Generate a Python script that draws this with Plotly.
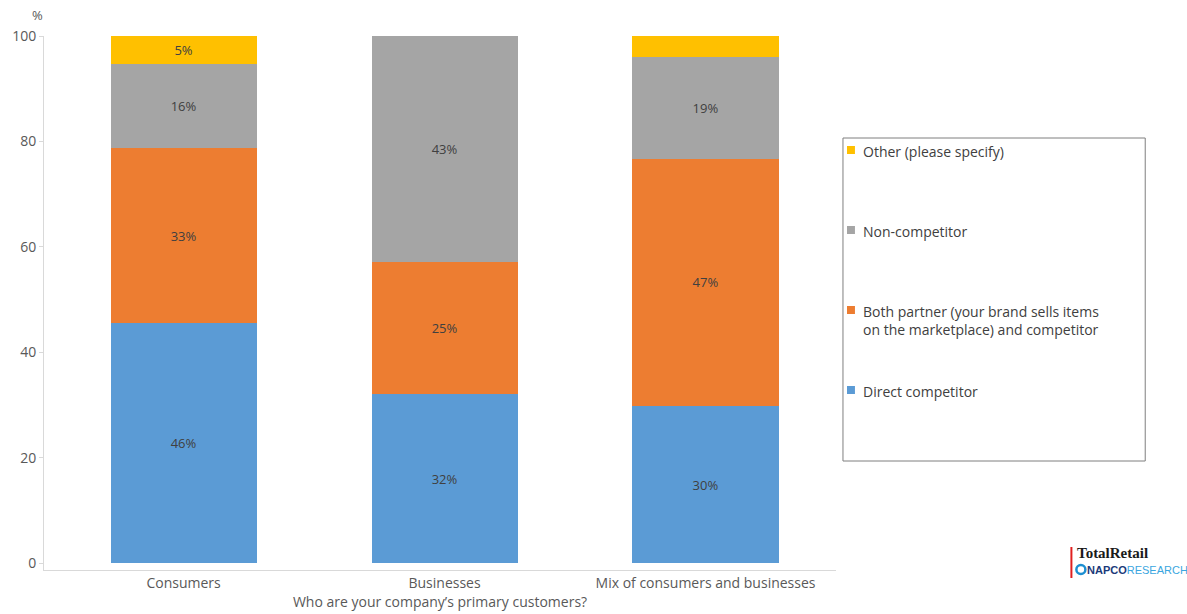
import plotly.graph_objects as go

# Survey responses (% of respondents) by primary customer type
categories = ["Consumers", "Businesses", "Mix of consumers and businesses"]
series_names = [
    "Direct competitor",
    "Both partner (your brand sells items<br>on the marketplace) and competitor",
    "Non-competitor",
    "Other (please specify)",
]
direct = [45.6, 32.1, 29.8]
both = [33.1, 25.0, 46.9]
noncomp = [16.0, 42.9, 19.3]
other = [5.3, 0.0, 4.0]
colors = ["#5B9BD5", "#ED7D31", "#A5A5A5", "#FFC000"]
yticks = [0, 20, 40, 60, 80, 100]

series_values = [direct, both, noncomp, other]

W, H = 1187, 614
ML, MR, MT, MB = 42, 351, 36, 44
PW, PH = W - ML - MR, H - MT - MB


def px_x(px):
    return (px - ML) / PW


def px_y(py):
    return (H - MB - py) / PH


FONT = "Open Sans"
TXT = "#404040"

fig = go.Figure()
for name, vals, col in zip(series_names, series_values, colors):
    labels = [f"{v:.0f}%" if v >= 4.5 else "" for v in vals]
    fig.add_trace(go.Bar(
        x=categories, y=vals, name=name, marker=dict(color=col, line=dict(width=0)),
        text=labels, textposition="inside", insidetextanchor="middle",
        textangle=0, textfont=dict(family=FONT, size=13, color=TXT),
        width=0.56, showlegend=False, hoverinfo="x+y+name",
    ))

# Legend drawn as a framed box with swatches
shapes = [dict(type="rect", xref="paper", yref="paper",
               x0=px_x(843), x1=px_x(1146), y0=px_y(461), y1=px_y(138),
               line=dict(color="#7f7f7f", width=1), fillcolor="rgba(0,0,0,0)")]
annotations = []
legend_rows = [150, 230, 310, 390]
for name, col, yrow in zip(series_names[::-1], colors[::-1], legend_rows):
    shapes.append(dict(type="rect", xref="paper", yref="paper",
                       x0=px_x(847), x1=px_x(855), y0=px_y(yrow + 4), y1=px_y(yrow - 4),
                       line=dict(width=0), fillcolor=col))
    annotations.append(dict(xref="paper", yref="paper", x=px_x(861), y=px_y(yrow - 10),
                            xanchor="left", yanchor="top", align="left", showarrow=False,
                            text=name, font=dict(family=FONT, size=14, color=TXT)))

# Unit label above the y axis
annotations.append(dict(xref="paper", yref="paper", x=px_x(35), y=px_y(15),
                        xanchor="center", yanchor="middle", showarrow=False, text="%",
                        font=dict(family=FONT, size=13, color="#595959")))

# Publisher mark
shapes.append(dict(type="line", xref="paper", yref="paper",
                   x0=px_x(1072), x1=px_x(1072), y0=px_y(578), y1=px_y(547),
                   line=dict(color="#e02020", width=2)))
shapes.append(dict(type="circle", xref="paper", yref="paper",
                   x0=px_x(1077), x1=px_x(1086), y0=px_y(574), y1=px_y(565),
                   line=dict(color="#1d8fd1", width=2.5), fillcolor="white"))
annotations.append(dict(xref="paper", yref="paper", x=px_x(1076), y=px_y(553),
                        xanchor="left", yanchor="middle", showarrow=False,
                        text="<b>TotalRetail</b>",
                        font=dict(family="Liberation Serif", size=15, color="#1a1a1a")))
annotations.append(dict(xref="paper", yref="paper", x=px_x(1086), y=px_y(570),
                        xanchor="left", yanchor="middle", showarrow=False,
                        text="<b><span style='color:#1b3a7a'>NAPCO</span></b>"
                             "<span style='color:#3aa6e0'>RESEARCH</span>",
                        font=dict(family="Liberation Sans", size=11)))

fig.update_layout(
    width=W, height=H + 5, barmode="stack",
    margin=dict(l=ML, r=MR, t=MT, b=MB + 5),
    paper_bgcolor="white", plot_bgcolor="white",
    font=dict(family=FONT, size=14, color="#595959"),
    shapes=shapes, annotations=annotations, showlegend=False,
    xaxis=dict(range=[-0.535, 2.5], showline=True, linecolor="#d9d9d9", linewidth=1,
               ticks="", showgrid=False, zeroline=False,
               tickfont=dict(family=FONT, size=14, color="#595959"),
               title=dict(text="Who are your company’s primary customers?", standoff=4,
                          font=dict(family=FONT, size=14, color="#595959"))),
    yaxis=dict(range=[-1.3, 100], tickvals=yticks, showline=True, linecolor="#d9d9d9",
               linewidth=1, ticks="outside", ticklen=4, tickcolor="#d9d9d9",
               showgrid=False, zeroline=False,
               tickfont=dict(family=FONT, size=14, color="#595959")),
)

fig.write_html("out.html")
